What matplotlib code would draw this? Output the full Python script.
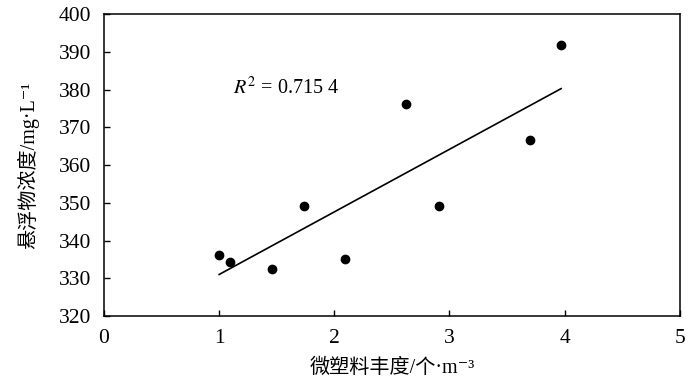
import numpy as np
import matplotlib
matplotlib.use('Agg')
import matplotlib.pyplot as plt

# microplastic abundance vs suspended solids
abundance = [1.00, 1.09, 1.46, 1.74, 2.09, 2.62, 2.91, 3.70, 3.97]
suspended = [336.1, 334.4, 332.5, 349.2, 335.0, 376.2, 349.2, 366.6, 391.8]

x_ticks = [0, 1, 2, 3, 4, 5]
y_ticks = [320, 330, 340, 350, 360, 370, 380, 390, 400]
r2_text = '$R^2$ = 0.715 4'
x_label = '微塑料丰度/个·m⁻³'
y_label = '悬浮物浓度/mg·L⁻¹'

plt.rcParams['font.family'] = ['Liberation Serif', 'Noto Sans CJK SC', 'DejaVu Serif']
plt.rcParams['mathtext.fontset'] = 'stix'

fig = plt.figure(figsize=(7, 3.84), dpi=100)
ax = fig.add_axes([0.1486, 0.177, 0.8224, 0.7865])

x = np.array(abundance)
y = np.array(suspended)
ax.plot(x, y, 'o', color='black', ms=6)

# linear fit across the data range
k, b = np.polyfit(x, y, 1)
xs = np.array([x.min(), x.max()])
ax.plot(xs, k * xs + b, color='black', lw=1.2)

ax.text(1.12, 380.4, r2_text, fontsize=14.5, va='center', ha='left')

ax.set_xlim(0, 5)
ax.set_ylim(320, 400)
ax.set_xticks(x_ticks)
ax.set_yticks(y_ticks)
ax.tick_params(direction='in', length=4, width=1, labelsize=15.5)
ax.tick_params(axis='x', pad=9)
ax.tick_params(axis='y', pad=9)
for s in ax.spines.values():
    s.set_linewidth(1.1)

ax.set_xlabel(x_label, fontsize=14.5, labelpad=8)
ax.set_ylabel(y_label, fontsize=14.5, labelpad=14)

fig.savefig('out.png', dpi=100)
